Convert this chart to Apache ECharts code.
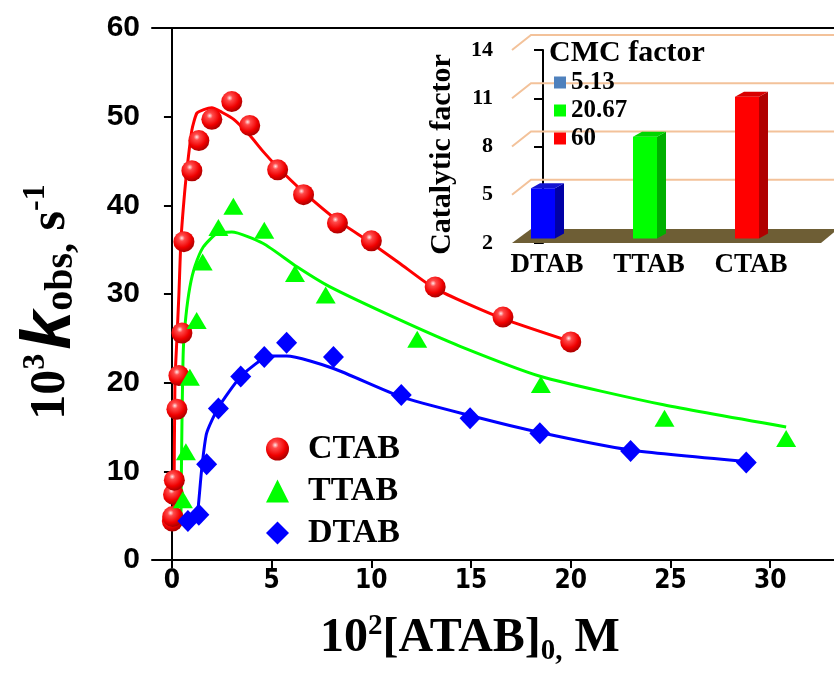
<!DOCTYPE html>
<html>
<head>
<meta charset="utf-8">
<script src="https://cdn.jsdelivr.net/npm/echarts/dist/echarts.min.js"></script>
<style>
  html, body { margin: 0; padding: 0; background: #fff; }
  #chart { width: 834px; height: 673px; }
</style>
</head>
<body>
<div id="chart"></div>
<script>
// main plot: measured points
var ctabX = [0.02, 0.04, 0.08, 0.12, 0.25, 0.35, 0.5, 0.6, 1.0, 1.35, 2.0, 3.0, 3.9, 5.3, 6.6, 8.3, 10.0, 13.2, 16.6, 20.0];
var ctabY = [4.4, 4.9, 7.4, 9.0, 17.0, 20.8, 25.6, 35.9, 43.9, 47.3, 49.7, 51.7, 49.0, 44.0, 41.2, 38.0, 36.0, 30.8, 27.4, 24.6];
var ttabX = [0.55, 0.7, 0.9, 1.24, 1.54, 2.33, 3.08, 4.63, 6.17, 7.71, 12.3, 18.5, 24.7, 30.8];
var ttabY = [6.8, 12.2, 20.6, 27.0, 33.6, 37.5, 39.9, 37.2, 32.3, 29.9, 24.9, 19.8, 16.0, 13.7];
var dtabX = [0.8, 1.35, 1.74, 2.33, 3.45, 4.63, 5.75, 8.1, 11.5, 14.95, 18.45, 23.0, 28.8];
var dtabY = [4.4, 5.1, 10.8, 17.1, 20.7, 22.9, 24.5, 22.9, 18.6, 16.0, 14.3, 12.3, 11.0];

// fitted curves
var ctabFitX = [0.1, 0.15, 0.25, 0.35, 0.45, 0.6, 0.75, 1.0, 1.25, 1.6, 2.0, 2.5, 3.1, 3.9, 4.6, 5.3, 6.6, 8.3, 9.9, 11.4, 13.2, 16.5, 19.9];
var ctabFitY = [4.8, 20, 25, 30, 36, 40.5, 44, 48.5, 50.4, 50.8, 51.0, 50.5, 49.7, 47.9, 46.0, 44.3, 41.5, 38.3, 35.9, 33.5, 30.6, 27.3, 24.7];
var ttabFitX = [0.45, 0.5, 0.57, 0.7, 0.9, 1.15, 1.57, 2.24, 3.0, 4.58, 6.25, 7.93, 11.4, 14.45, 18.5, 24.65, 30.8];
var ttabFitY = [4.5, 15, 23.7, 27.5, 30.8, 33.1, 35.3, 36.8, 37.0, 35.7, 33.1, 30.8, 27.1, 24.1, 20.7, 17.5, 15.0];
var dtabFitX = [0.6, 1.2, 1.3, 1.49, 1.74, 2.33, 3.45, 4.63, 5.08, 5.75, 8.1, 11.5, 14.95, 18.4, 23.0, 28.8];
var dtabFitY = [4.2, 4.8, 5.6, 10.2, 14.3, 17.2, 20.7, 22.8, 23.0, 23.0, 21.6, 18.4, 16.3, 14.4, 12.4, 11.1];

var xTicks = [0, 5, 10, 15, 20, 25, 30];

// inset bar chart
var surfactants = ['DTAB', 'TTAB', 'CTAB'];
var catalyticFactor = [5.4, 8.6, 11.1];
var cmcFactor = ['5.13', '20.67', '60'];
var insetTicks = [2, 5, 8, 11, 14];

var SERIF = "'Liberation Serif', 'Times New Roman', serif";
var SANS = "'Liberation Sans', Arial, sans-serif";
var NARROW = "'Liberation Sans Narrow', 'DejaVu Sans Condensed', sans-serif";

function pairs(xs, ys) {
  return xs.map(function (x, i) { return [x, ys[i]]; });
}

var sphere = {
  type: 'radial', x: 0.4, y: 0.33, r: 0.65,
  colorStops: [
    { offset: 0, color: '#ffe8e8' },
    { offset: 0.22, color: '#ff4a4a' },
    { offset: 0.7, color: '#f00000' },
    { offset: 1, color: '#b00000' }
  ]
};

var barFaces = [
  { front: '#0000ff', side: '#0000a6', top: '#1414d2' },
  { front: '#00ff00', side: '#00b000', top: '#00d600' },
  { front: '#ff0000', side: '#b00000', top: '#d80000' }
];
var legendColors = ['#4f81bd', '#00ff00', '#ff0000'];

function bar3d(params, api) {
  var f = barFaces[params.seriesIndex - 7];
  var top = api.coord([api.value(0), api.value(1)]);
  var base = api.coord([api.value(0), insetTicks[0]]);
  var w = 24, dx = 9, dy = 5;
  var x0 = top[0] - w / 2, x1 = top[0] + w / 2;
  var yT = top[1], yB = base[1] - 4.5;
  return {
    type: 'group',
    children: [
      { type: 'rect', shape: { x: x0, y: yT, width: w, height: yB - yT }, style: { fill: f.front } },
      { type: 'polygon', shape: { points: [[x1, yT], [x1 + dx, yT - dy], [x1 + dx, yB - dy], [x1, yB]] }, style: { fill: f.side } },
      { type: 'polygon', shape: { points: [[x0, yT], [x0 + dx, yT - dy], [x1 + dx, yT - dy], [x1, yT]] }, style: { fill: f.top } }
    ]
  };
}

function insetBackdrop(params, api) {
  var cs = params.coordSys;
  var right = cs.x + cs.width + 4;
  var dx = 19, dy = 15;
  var kids = [];
  insetTicks.slice(1).forEach(function (v) {
    var p = api.coord([-0.304, v]);
    kids.push({
      type: 'polyline',
      shape: { points: [[cs.x, p[1]], [cs.x + dx, p[1] - dy], [right, p[1] - dy]] },
      style: { stroke: '#f3c29a', lineWidth: 2, fill: null }
    });
  });
  var b = api.coord([-0.304, insetTicks[0]]);
  kids.push({
    type: 'polygon',
    shape: { points: [[cs.x, b[1]], [cs.x + dx, b[1] - dy + 1], [right, b[1] - dy + 1], [right - 17, b[1]]] },
    style: { fill: '#6e5e35' }
  });
  return { type: 'group', children: kids };
}

var chart = echarts.init(document.getElementById('chart'));

var option = {
  animation: false,
  backgroundColor: '#fff',
  title: {
    text: 'CMC factor',
    left: 544, top: 33,
    textStyle: { fontFamily: SERIF, fontWeight: 'bold', fontSize: 30, color: '#000' }
  },
  legend: [{
    data: ['CTAB', 'TTAB', 'DTAB'],
    orient: 'vertical',
    left: 261, top: 427,
    itemWidth: 23, itemHeight: 23, itemGap: 8,
    textStyle: { fontFamily: SERIF, fontWeight: 'bold', fontSize: 34, color: '#000', padding: [0, 0, 0, 14] }
  }, {
    data: cmcFactor,
    orient: 'vertical',
    left: 549, top: 65,
    icon: 'rect',
    itemWidth: 12, itemHeight: 12, itemGap: 3,
    textStyle: { fontFamily: SERIF, fontWeight: 'bold', fontSize: 25, lineHeight: 24, color: '#000' }
  }],
  grid: [
    { left: 152, top: 28, right: 0, bottom: 113 },
    { left: 512, top: 50, right: 0, height: 193 }
  ],
  xAxis: [{
    gridIndex: 0,
    type: 'value', min: -1, max: 33.2,
    name: '{n|10}{sup|2}{n|[ATAB]}{sub|0,}{n| M}',
    nameLocation: 'middle', nameGap: 52,
    nameTextStyle: {
      padding: [0, 46, 0, 0],
      rich: {
        n: { fontFamily: SERIF, fontWeight: 'bold', fontSize: 48, lineHeight: 54, color: '#000' },
        sup: { fontFamily: SERIF, fontWeight: 'bold', fontSize: 29, lineHeight: 28, verticalAlign: 'top', color: '#000' },
        sub: { fontFamily: SERIF, fontWeight: 'bold', fontSize: 29, lineHeight: 24, verticalAlign: 'bottom', color: '#000' }
      }
    },
    axisLine: { lineStyle: { color: '#000', width: 2 } },
    axisTick: { customValues: xTicks, length: 8, lineStyle: { color: '#000', width: 2 } },
    axisLabel: { customValues: xTicks, margin: 8, fontFamily: NARROW, fontWeight: 'bold', fontSize: 26, color: '#000' },
    splitLine: { show: false }
  }, {
    gridIndex: 0,
    type: 'value', min: -1, max: 33.2, position: 'top',
    axisLine: { show: true, lineStyle: { color: '#000', width: 2 } },
    axisTick: { show: false }, axisLabel: { show: false }, splitLine: { show: false }
  }, {
    gridIndex: 1,
    type: 'value', min: -0.304, max: 2.853,
    axisLine: { show: false }, axisTick: { show: false }, splitLine: { show: false },
    axisLabel: {
      customValues: [0, 1, 2], margin: 9,
      padding: [0, 0, 0, 8],
      formatter: function (v) { return surfactants[Math.round(v)]; },
      fontFamily: SERIF, fontWeight: 'bold', fontSize: 27, color: '#000'
    }
  }],
  yAxis: [{
    gridIndex: 0,
    type: 'value', min: 0, max: 60, interval: 10,
    name: '{n|10}{sup|3}{k|k}{sub|obs,}{n| s}{sup|-1}',
    nameLocation: 'middle', nameRotate: 90, nameGap: 70,
    nameTextStyle: {
      padding: [0, 16, 0, 0],
      rich: {
        n: { fontFamily: SERIF, fontWeight: 'bold', fontSize: 50, lineHeight: 62, color: '#000' },
        k: { fontFamily: SANS, fontStyle: 'italic', fontWeight: 'bold', fontSize: 70, lineHeight: 62, color: '#000', padding: [0, 0, 0, 4] },
        sup: { fontFamily: SERIF, fontWeight: 'bold', fontSize: 32, lineHeight: 30, verticalAlign: 'top', color: '#000' },
        sub: { fontFamily: SERIF, fontWeight: 'bold', fontSize: 40, lineHeight: 32, verticalAlign: 'bottom', color: '#000' }
      }
    },
    axisLine: { show: true, lineStyle: { color: '#000', width: 2 } },
    axisTick: { show: true, length: 8, lineStyle: { color: '#000', width: 2 } },
    axisLabel: { margin: 12, fontFamily: SANS, fontWeight: 'bold', fontSize: 30, color: '#000' },
    splitLine: { show: false }
  }, {
    gridIndex: 1,
    type: 'value', min: 2, max: 14,
    name: 'Catalytic factor',
    nameLocation: 'middle', nameRotate: 90, nameGap: 55,
    nameTextStyle: { fontFamily: SERIF, fontWeight: 'bold', fontSize: 30, color: '#000', padding: [0, 16, 0, 0] },
    axisLine: { show: true, lineStyle: { color: '#000', width: 2 } },
    axisTick: { customValues: insetTicks, length: 9, lineStyle: { color: '#000', width: 2 } },
    axisLabel: { customValues: insetTicks, margin: 19, fontFamily: SERIF, fontWeight: 'bold', fontSize: 22, color: '#000' },
    splitLine: { show: false }
  }],
  series: [
    { type: 'line', name: 'CTAB fit', xAxisIndex: 0, yAxisIndex: 0, data: pairs(ctabFitX, ctabFitY), showSymbol: false, smooth: 0.2, lineStyle: { color: '#ff0000', width: 3 }, z: 2 },
    { type: 'line', name: 'TTAB fit', xAxisIndex: 0, yAxisIndex: 0, data: pairs(ttabFitX, ttabFitY), showSymbol: false, smooth: 0.2, lineStyle: { color: '#00ff00', width: 3 }, z: 2 },
    { type: 'line', name: 'DTAB fit', xAxisIndex: 0, yAxisIndex: 0, data: pairs(dtabFitX, dtabFitY), showSymbol: false, smooth: 0.2, lineStyle: { color: '#0000ff', width: 3 }, z: 2 },
    { type: 'scatter', name: 'CTAB', xAxisIndex: 0, yAxisIndex: 0, data: pairs(ctabX, ctabY), symbol: 'circle', symbolSize: 21, itemStyle: { color: sphere, opacity: 1 }, z: 3 },
    { type: 'scatter', name: 'TTAB', xAxisIndex: 0, yAxisIndex: 0, data: pairs(ttabX, ttabY), symbol: 'triangle', symbolSize: [20, 17], itemStyle: { color: '#00ff00', opacity: 1 }, z: 3 },
    { type: 'scatter', name: 'DTAB', xAxisIndex: 0, yAxisIndex: 0, data: pairs(dtabX, dtabY), symbol: 'diamond', symbolSize: [21, 22], itemStyle: { color: '#0000ff', opacity: 1 }, z: 3 },
    { type: 'custom', name: 'backdrop', xAxisIndex: 2, yAxisIndex: 1, data: [[0, 2]], renderItem: insetBackdrop, silent: true, z: 1 },
    { type: 'custom', name: cmcFactor[0], xAxisIndex: 2, yAxisIndex: 1, data: [[0, catalyticFactor[0]]], renderItem: bar3d, itemStyle: { color: legendColors[0] }, z: 2 },
    { type: 'custom', name: cmcFactor[1], xAxisIndex: 2, yAxisIndex: 1, data: [[1, catalyticFactor[1]]], renderItem: bar3d, itemStyle: { color: legendColors[1] }, z: 2 },
    { type: 'custom', name: cmcFactor[2], xAxisIndex: 2, yAxisIndex: 1, data: [[2, catalyticFactor[2]]], renderItem: bar3d, itemStyle: { color: legendColors[2] }, z: 2 }
  ]
};

chart.setOption(option);
</script>
</body>
</html>
